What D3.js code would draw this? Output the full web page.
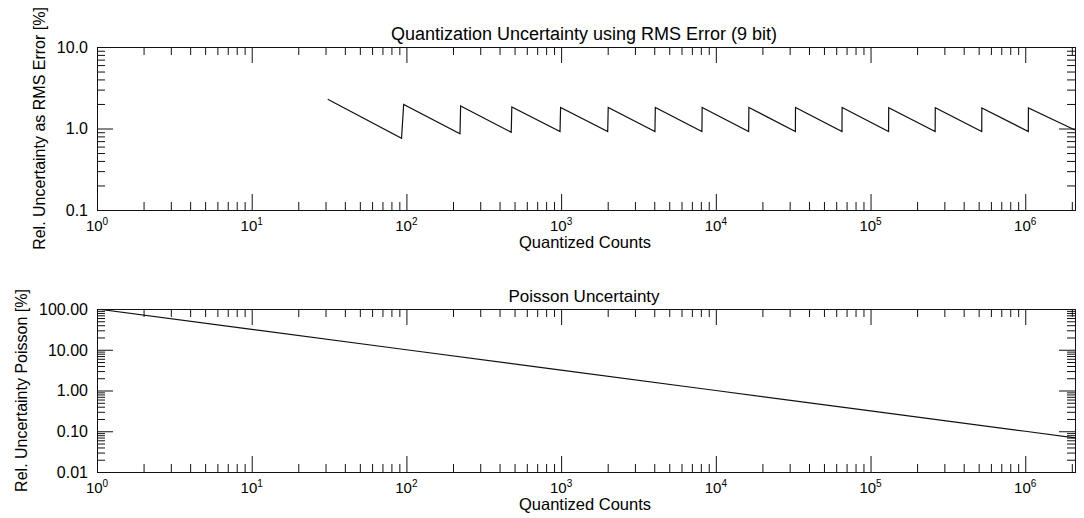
<!DOCTYPE html>
<html>
<head>
<meta charset="utf-8">
<script src="https://cdn.jsdelivr.net/npm/d3@7"></script>
<style>
    body { margin: 0; background: #fff; }
    svg text { font-family: "Liberation Sans", Arial, Helvetica, sans-serif; fill: #000; }
</style>
</head>
<body>
<svg id="chart" width="1084" height="518"></svg>
<script>
// x axis (shared by both panels)
const countsMax = 2097152;
const xDecades = [1, 10, 100, 1e3, 1e4, 1e5, 1e6];
const xExponents = ["0", "1", "2", "3", "4", "5", "6"];

// top panel: quantization uncertainty (sawtooth vertices)
const rmsCounts = [31, 93, 96, 222, 224, 476, 480, 984, 992, 2000, 2016, 4040, 4064, 8130, 8160,
    16300, 16352, 32670, 32736, 65380, 65504, 130800, 131040, 261600, 262112, 523300, 524256,
    1046500, 1048544, 2097152];
const rmsError = [2.29, 0.76, 1.97, 0.86, 1.89, 0.90, 1.84, 0.92, 1.81, 0.92, 1.81, 0.92, 1.81, 0.92, 1.81,
    0.92, 1.81, 0.92, 1.81, 0.92, 1.81, 0.92, 1.80, 0.92, 1.80, 0.92, 1.79, 0.92, 1.79, 0.96];
const rmsYTicks = [0.1, 1, 10];
const rmsYLabels = ["0.1", "1.0", "10.0"];

// bottom panel: poisson uncertainty
const poissonCounts = [1, 10, 100, 1e3, 1e4, 1e5, 1e6, 2097152];
const poissonError = [100, 31.6, 10, 3.16, 1, 0.316, 0.1, 0.069];
const poissonYTicks = [0.01, 0.1, 1, 10, 100];
const poissonYLabels = ["0.01", "0.10", "1.00", "10.00", "100.00"];

const svg = d3.select("#chart");
const left = 97, right = 1075, plotH = 163;
const x = d3.scaleLog().domain([1, countsMax]).range([left, right]);

// 2..9 times each decade inside the domain
function minorTicks(lo, hi) {
    let t = [];
    for (let d = Math.pow(10, Math.floor(Math.log10(lo))); d < hi; d *= 10) {
        for (let m = 2; m < 10; m++) {
            let v = m * d;
            if (v > lo * 1.0001 && v < hi * 0.9999) t.push(v);
        }
    }
    return t;
}

function drawPanel(cfg) {
    const top = cfg.top, bottom = top + plotH;
    const y = d3.scaleLog().domain([cfg.yTicks[0], cfg.yTicks[cfg.yTicks.length - 1]]).range([bottom, top]);
    const g = svg.append("g");

    const xMinor = minorTicks(1, countsMax);
    const yMinor = minorTicks(y.domain()[0], y.domain()[1]);

    // inward ticks on all four sides
    const axes = [
        [d3.axisBottom, `translate(0,${bottom})`, x, xDecades, xMinor],
        [d3.axisTop, `translate(0,${top})`, x, xDecades, xMinor],
        [d3.axisLeft, `translate(${left},0)`, y, cfg.yTicks, yMinor],
        [d3.axisRight, `translate(${right},0)`, y, cfg.yTicks, yMinor]
    ];
    axes.forEach(([ax, tr, sc, major, minor]) => {
        [[major, 16], [minor, 8]].forEach(([vals, len]) => {
            g.append("g")
                .attr("transform", tr)
                .call(ax(sc).tickValues(vals).tickSize(-len).tickSizeOuter(0).tickFormat(""))
                .call(a => a.select(".domain").remove())
                .selectAll("line").attr("stroke", "#111");
        });
    });

    g.append("rect")
        .attr("x", left + 0.5).attr("y", top + 0.5)
        .attr("width", right - left).attr("height", plotH)
        .attr("fill", "none").attr("stroke", "#111");

    // x labels as 10^n
    xDecades.forEach((d, i) => {
        let t = g.append("text")
            .attr("x", x(d)).attr("y", bottom + 21)
            .attr("text-anchor", "middle")
            .style("font-size", "15px");
        t.append("tspan").text("10");
        t.append("tspan").attr("dy", -6).style("font-size", "10px").text(xExponents[i]);
    });

    // y labels
    cfg.yTicks.forEach((v, i) => {
        g.append("text")
            .attr("x", 88).attr("y", y(v))
            .attr("dy", "0.36em")
            .attr("text-anchor", "end")
            .style("font-size", "16px")
            .text(cfg.yLabels[i]);
    });

    g.append("text")
        .attr("x", (left + right) / 2 - 2).attr("y", top - 7)
        .attr("text-anchor", "middle")
        .style("font-size", cfg.titleSize)
        .text(cfg.title);

    g.append("text")
        .attr("x", (left + right) / 2 - 1).attr("y", bottom + 38)
        .attr("text-anchor", "middle")
        .style("font-size", "16.5px")
        .text("Quantized Counts");

    g.append("text")
        .attr("transform", `translate(${cfg.yTitleX},${top + plotH / 2}) rotate(-90)`)
        .attr("text-anchor", "middle")
        .style("font-size", "16px")
        .text(cfg.yTitle);

    const clipId = "clip" + top;
    g.append("clipPath").attr("id", clipId)
        .append("rect").attr("x", left).attr("y", top).attr("width", right - left + 1).attr("height", plotH + 1);

    const pts = cfg.counts.map((c, i) => [c, cfg.values[i]]);
    g.append("path")
        .datum(pts)
        .attr("clip-path", `url(#${clipId})`)
        .attr("fill", "none")
        .attr("stroke", "#111")
        .attr("stroke-width", 1.2)
        .attr("d", d3.line().x(d => x(d[0])).y(d => y(d[1])));
}

drawPanel({
    top: 47,
    yTicks: rmsYTicks, yLabels: rmsYLabels,
    title: "Quantization Uncertainty using RMS Error (9 bit)", titleSize: "18px",
    yTitle: "Rel. Uncertainty as RMS Error [%]", yTitleX: 45,
    counts: rmsCounts, values: rmsError
});

drawPanel({
    top: 309,
    yTicks: poissonYTicks, yLabels: poissonYLabels,
    title: "Poisson Uncertainty", titleSize: "17px",
    yTitle: "Rel. Uncertainty Poisson [%]", yTitleX: 27,
    counts: poissonCounts, values: poissonError
});
</script>
</body>
</html>
